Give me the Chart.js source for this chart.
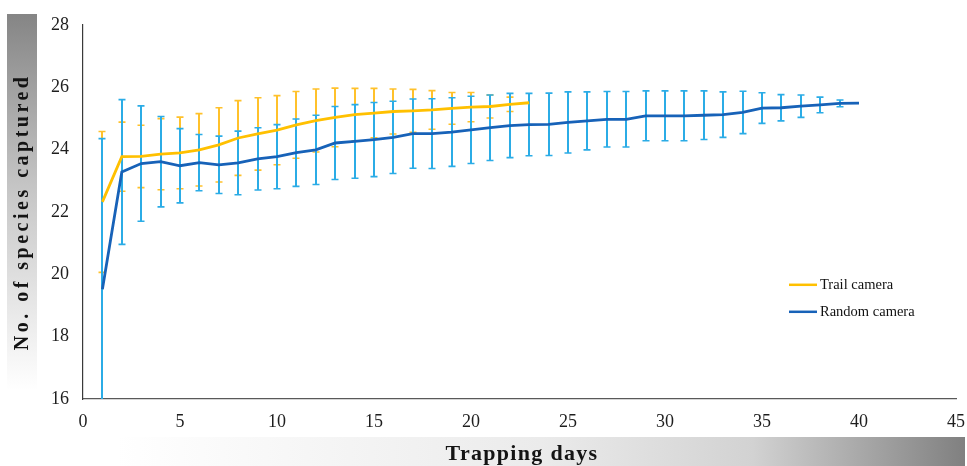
<!DOCTYPE html>
<html>
<head>
<meta charset="utf-8">
<title>Species accumulation</title>
<script src="https://cdn.jsdelivr.net/npm/chart.js@4.4.0/dist/chart.umd.min.js"></script>
<style>
  html, body { margin: 0; padding: 0; background: #fff; }
  #wrap { width: 967px; height: 466px; }
</style>
</head>
<body>
<div id="wrap"><canvas id="species-chart" width="967" height="466"></canvas></div>
<script>
// values
const days = [1, 2, 3, 4, 5, 6, 7, 8, 9, 10, 11, 12, 13, 14, 15, 16, 17, 18, 19, 20,
              21, 22, 23, 24, 25, 26, 27, 28, 29, 30, 31, 32, 33, 34, 35, 36, 37, 38, 39, 40];

const trailMean = [22.32, 23.77, 23.78, 23.85, 23.89, 23.99, 24.15, 24.37, 24.50, 24.62,
                   24.79, 24.93, 25.03, 25.12, 25.17, 25.22, 25.24, 25.27, 25.32, 25.36,
                   25.38, 25.45, 25.50];
const trailSd = [2.26, 1.11, 1.00, 1.14, 1.15, 1.16, 1.19, 1.20, 1.16, 1.11,
                 1.07, 1.01, 0.94, 0.84, 0.79, 0.72, 0.69, 0.62, 0.51, 0.47,
                 0.37, 0.23, 0];

const randomMean = [19.52, 23.28, 23.55, 23.61, 23.48, 23.58, 23.51, 23.57, 23.70, 23.77,
                    23.90, 23.99, 24.21, 24.26, 24.32, 24.39, 24.51, 24.51, 24.56, 24.63,
                    24.70, 24.77, 24.80, 24.81, 24.87, 24.92, 24.97, 24.97, 25.08, 25.08,
                    25.08, 25.10, 25.12, 25.19, 25.33, 25.34, 25.39, 25.43, 25.48, 25.49];
const randomSd = [4.83, 2.32, 1.85, 1.45, 1.19, 0.90, 0.92, 1.02, 1.00, 1.03,
                  1.08, 1.11, 1.17, 1.18, 1.19, 1.16, 1.11, 1.12, 1.10, 1.08,
                  1.05, 1.03, 1.00, 1.00, 0.98, 0.93, 0.89, 0.89, 0.80, 0.80,
                  0.80, 0.78, 0.73, 0.68, 0.49, 0.42, 0.36, 0.25, 0.11, 0];

const xTicks = [0, 5, 10, 15, 20, 25, 30, 35, 40, 45];
const yTicks = [16, 18, 20, 22, 24, 26, 28];

const xTitle = 'Trapping days';
const yTitle = 'No. of species captured';

const serif = '"Liberation Serif", "Times New Roman", serif';

function toPoints(means) {
    return means.map((v, i) => ({ x: days[i], y: v }));
}

// error bars (mean +/- sd), drawn under the lines
const errorBars = {
    id: 'errorBars',
    beforeDatasetsDraw(chart) {
        const { ctx, chartArea, scales: { x, y } } = chart;
        ctx.save();
        ctx.beginPath();
        ctx.rect(chartArea.left, chartArea.top - 4, chartArea.width, chartArea.height + 4);
        ctx.clip();
        chart.data.datasets.forEach(ds => {
            ctx.strokeStyle = ds.errorColor;
            ctx.lineWidth = 2;
            ds.data.forEach((p, i) => {
                const sd = ds.sd[i];
                if (!sd) return;
                const px = Math.round(x.getPixelForValue(p.x));
                const top = y.getPixelForValue(p.y + sd);
                const bot = y.getPixelForValue(p.y - sd);
                ctx.beginPath();
                ctx.moveTo(px, top);
                ctx.lineTo(px, bot);
                ctx.stroke();
                ctx.lineWidth = 1.6;
                ctx.beginPath();
                ctx.moveTo(px - 3.5, top);
                ctx.lineTo(px + 3.5, top);
                if (bot < chartArea.bottom) {
                    ctx.moveTo(px - 3.5, bot);
                    ctx.lineTo(px + 3.5, bot);
                }
                ctx.stroke();
                ctx.lineWidth = 2;
            });
        });
        ctx.restore();
    }
};

// shaded boxes behind the axis titles, plus the titles
const axisTitles = {
    id: 'axisTitles',
    beforeDraw(chart) {
        const { ctx } = chart;
        ctx.save();
        let g = ctx.createLinearGradient(0, 14, 0, 390);
        g.addColorStop(0, '#858585');
        g.addColorStop(0.45, '#c4c4c4');
        g.addColorStop(1, '#ffffff');
        ctx.fillStyle = g;
        ctx.fillRect(7, 14, 30, 376);

        g = ctx.createLinearGradient(117, 0, 965, 0);
        g.addColorStop(0, '#ffffff');
        g.addColorStop(0.5, '#ebebeb');
        g.addColorStop(0.75, '#d2d2d2');
        g.addColorStop(1, '#808080');
        ctx.fillStyle = g;
        ctx.fillRect(117, 437, 848, 29);
        ctx.restore();
    },
    afterDraw(chart) {
        const { ctx, chartArea } = chart;
        ctx.save();
        ctx.fillStyle = '#141414';
        ctx.textAlign = 'center';
        ctx.textBaseline = 'middle';

        ctx.font = 'bold 20px ' + serif;
        ctx.letterSpacing = '3.5px';
        ctx.translate(23, (chartArea.top + chartArea.bottom) / 2);
        ctx.rotate(-Math.PI / 2);
        ctx.fillText(yTitle, 0, 0);
        ctx.setTransform(1, 0, 0, 1, 0, 0);

        ctx.font = 'bold 22px ' + serif;
        ctx.letterSpacing = '1.3px';
        ctx.fillText(xTitle, 522, 454);
        ctx.restore();
    }
};

// legend placed inside the plot area
const insideLegend = {
    id: 'insideLegend',
    afterDraw(chart) {
        const { ctx, chartArea } = chart;
        const x0 = chartArea.left + 706;
        let y0 = chartArea.top + 260;
        ctx.save();
        ctx.font = '14.5px ' + serif;
        ctx.textBaseline = 'middle';
        ctx.textAlign = 'left';
        chart.data.datasets.forEach(ds => {
            ctx.strokeStyle = ds.borderColor;
            ctx.lineWidth = 2.5;
            ctx.beginPath();
            ctx.moveTo(x0, y0);
            ctx.lineTo(x0 + 28, y0);
            ctx.stroke();
            ctx.fillStyle = '#111';
            ctx.fillText(ds.label, x0 + 31, y0);
            y0 += 27;
        });
        ctx.restore();
    }
};

const ctx = document.getElementById('species-chart').getContext('2d');
new Chart(ctx, {
    type: 'line',
    data: {
        datasets: [{
            label: 'Trail camera',
            data: toPoints(trailMean),
            sd: trailSd,
            borderColor: '#ffc000',
            errorColor: '#ffc12b',
            borderWidth: 2.8,
            pointRadius: 0,
            tension: 0
        }, {
            label: 'Random camera',
            data: toPoints(randomMean),
            sd: randomSd,
            borderColor: '#1762b8',
            errorColor: '#2bace6',
            borderWidth: 2.8,
            pointRadius: 0,
            tension: 0
        }]
    },
    options: {
        responsive: false,
        animation: false,
        layout: { padding: { top: 20, right: 0, bottom: 0, left: 0 } },
        plugins: {
            legend: { display: false },
            tooltip: { enabled: false }
        },
        scales: {
            x: {
                type: 'linear',
                min: 0,
                max: 45,
                afterBuildTicks: scale => { scale.ticks = xTicks.map(v => ({ value: v })); },
                afterFit: scale => {
                    scale.height = 67;
                    scale.paddingLeft = 0;
                    scale.paddingRight = 11;
                },
                grid: { display: false, drawTicks: false },
                border: { display: true, color: '#595959', width: 1.2 },
                ticks: { padding: 12, color: '#1e1e1e', font: { family: serif, size: 18 } }
            },
            y: {
                min: 16,
                max: 28,
                afterBuildTicks: scale => { scale.ticks = yTicks.map(v => ({ value: v })); },
                afterFit: scale => { scale.width = 83; },
                grid: { display: false, drawTicks: false },
                border: { display: true, color: '#3a3a3a', width: 1.2 },
                ticks: { padding: 14, color: '#1e1e1e', font: { family: serif, size: 18 } }
            }
        }
    },
    plugins: [errorBars, axisTitles, insideLegend]
});
</script>
</body>
</html>
